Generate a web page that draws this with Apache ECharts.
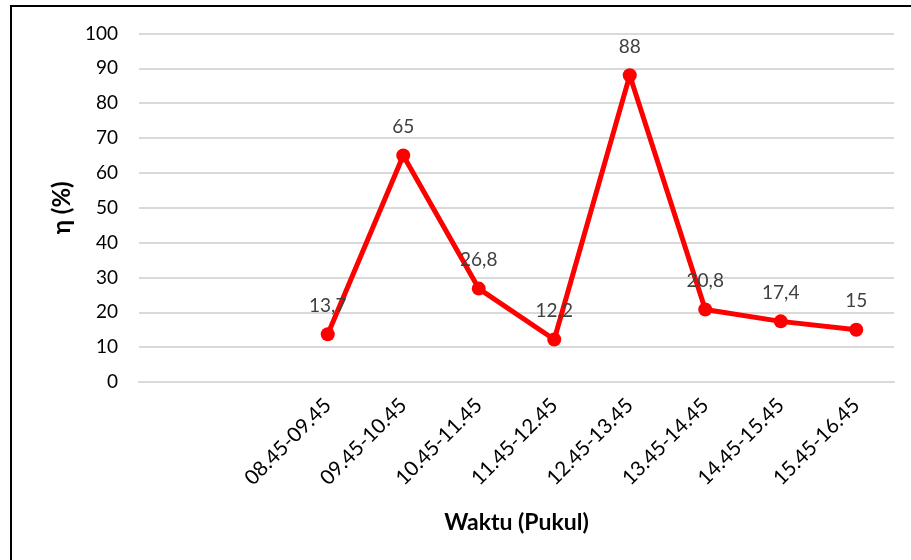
<!DOCTYPE html>
<html>
<head>
<meta charset="utf-8">
<script src="https://cdn.jsdelivr.net/npm/echarts@6/dist/echarts.min.js"></script>
<style>
html,body{margin:0;padding:0;background:#fff;}
#chart{width:911px;height:560px;}
</style>
</head>
<body>
<div id="chart"></div>
<script>
const categories = ['', '', '08.45-09.45', '09.45-10.45', '10.45-11.45', '11.45-12.45', '12.45-13.45', '13.45-14.45', '14.45-15.45', '15.45-16.45'];
const efficiency = ['-', '-', 13.7, 65, 26.8, 12.2, 88, 20.8, 17.4, 15];
const yTicks = { min: 0, max: 100, interval: 10 };
const xTitle = 'Waktu (Pukul)';
const yTitle = 'η (%)';

const chart = echarts.init(document.getElementById('chart'), null, { renderer: 'canvas' });
chart.setOption({
  animation: false,
  backgroundColor: '#fff',
  textStyle: { fontFamily: 'Lato' },
  graphic: [{
    type: 'rect',
    shape: { x: 11, y: 6, width: 1000, height: 1000 },
    style: { fill: 'none', stroke: '#000', lineWidth: 2 },
    silent: true
  }],
  grid: { left: 139, right: 17, top: 33.5, bottom: 178 },
  xAxis: {
    type: 'category',
    data: categories,
    boundaryGap: true,
    name: xTitle,
    nameLocation: 'middle',
    nameGap: 129,
    nameTextStyle: { fontFamily: 'Lato', fontWeight: 'bold', fontSize: 23, color: '#000' },
    axisLine: { show: true, lineStyle: { color: '#d9d9d9', width: 2 } },
    axisTick: { show: false },
    axisLabel: { rotate: 45, fontSize: 20.5, color: '#000', margin: 20, interval: 0, fontFamily: 'Lato' }
  },
  yAxis: {
    type: 'value',
    min: yTicks.min,
    max: yTicks.max,
    interval: yTicks.interval,
    name: yTitle,
    nameLocation: 'middle',
    nameGap: 65,
    nameRotate: 90,
    nameTextStyle: { fontFamily: 'Lato', fontWeight: 'bold', fontSize: 24, color: '#000' },
    axisLine: { show: false },
    axisTick: { show: false },
    axisLabel: { fontSize: 19, color: '#000', margin: 21, fontFamily: 'Lato' },
    splitLine: { lineStyle: { color: '#d9d9d9', width: 2 } }
  },
  series: [{
    type: 'line',
    data: efficiency,
    connectNulls: false,
    symbol: 'circle',
    symbolSize: 14,
    itemStyle: { color: '#ff0000' },
    lineStyle: { color: '#ff0000', width: 5 },
    label: {
      show: true,
      position: 'top',
      distance: 12,
      fontSize: 19,
      color: '#404040',
      fontFamily: 'Lato',
      formatter: p => String(p.value).replace('.', ',')
    }
  }]
});
</script>
</body>
</html>
